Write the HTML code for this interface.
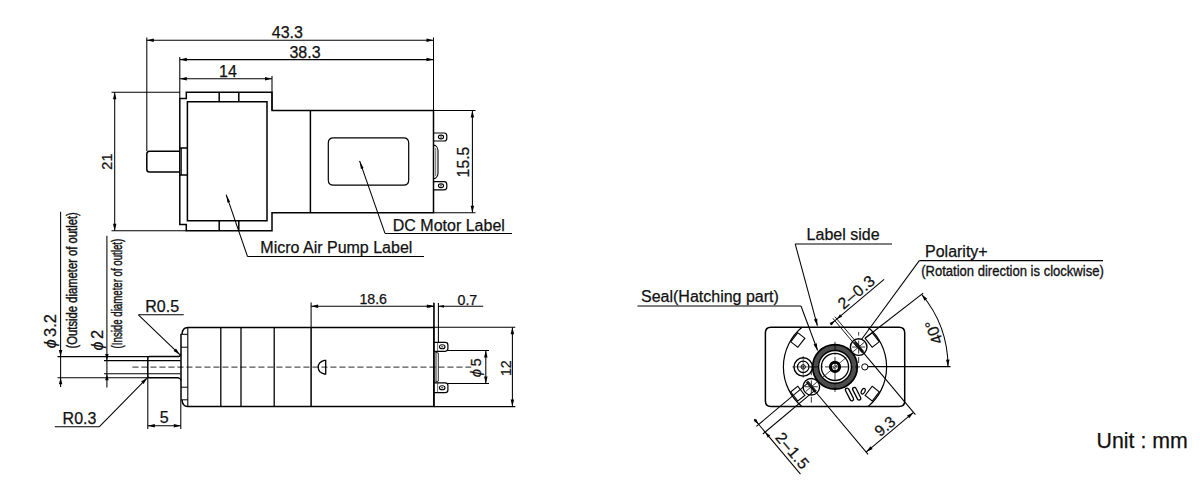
<!DOCTYPE html>
<html><head><meta charset="utf-8"><title>Dimensions</title>
<style>
html,body{margin:0;padding:0;background:#fff;}
body{width:1200px;height:497px;overflow:hidden;}
svg{display:block;}
svg text{font-family:"Liberation Sans",sans-serif;fill:#111;stroke:#111;stroke-width:0.25px;}
</style></head><body>
<svg width="1200" height="497" viewBox="0 0 1200 497">
<rect width="1200" height="497" fill="#fff"/>
<line x1="146.80" y1="37.50" x2="146.80" y2="151.00" stroke="#000" stroke-width="1.05" />
<line x1="433.50" y1="37.50" x2="433.50" y2="110.40" stroke="#000" stroke-width="1.05" />
<line x1="146.80" y1="40.30" x2="433.50" y2="40.30" stroke="#000" stroke-width="1.05" />
<polygon points="146.80,40.30 153.80,38.55 153.80,42.05" fill="#000"/>
<polygon points="433.50,40.30 426.50,42.05 426.50,38.55" fill="#000"/>
<text transform="translate(287.30 38.20)" font-size="16" text-anchor="middle" >43.3</text>
<line x1="179.80" y1="57.00" x2="179.80" y2="98.40" stroke="#000" stroke-width="1.05" />
<line x1="179.80" y1="59.60" x2="433.50" y2="59.60" stroke="#000" stroke-width="1.05" />
<polygon points="179.80,59.60 186.80,57.85 186.80,61.35" fill="#000"/>
<polygon points="433.50,59.60 426.50,61.35 426.50,57.85" fill="#000"/>
<text transform="translate(305.00 57.80)" font-size="16" text-anchor="middle" >38.3</text>
<line x1="272.00" y1="76.00" x2="272.00" y2="110.00" stroke="#000" stroke-width="1.05" />
<line x1="179.80" y1="78.80" x2="272.00" y2="78.80" stroke="#000" stroke-width="1.05" />
<polygon points="179.80,78.80 186.80,77.05 186.80,80.55" fill="#000"/>
<polygon points="272.00,78.80 265.00,80.55 265.00,77.05" fill="#000"/>
<text transform="translate(228.00 76.80)" font-size="16" text-anchor="middle" >14</text>
<line x1="111.50" y1="92.20" x2="180.00" y2="92.20" stroke="#000" stroke-width="1.05" />
<line x1="111.50" y1="230.80" x2="186.30" y2="230.80" stroke="#000" stroke-width="1.05" />
<line x1="114.70" y1="92.20" x2="114.70" y2="230.80" stroke="#000" stroke-width="1.05" />
<polygon points="114.70,92.20 116.45,99.20 112.95,99.20" fill="#000"/>
<polygon points="114.70,230.80 112.95,223.80 116.45,223.80" fill="#000"/>
<text transform="translate(111.60 161.60) rotate(-90)" font-size="14.5" text-anchor="middle" >21</text>
<line x1="433.50" y1="110.40" x2="475.50" y2="110.40" stroke="#000" stroke-width="1.05" />
<line x1="433.50" y1="212.80" x2="475.50" y2="212.80" stroke="#000" stroke-width="1.05" />
<line x1="472.40" y1="110.40" x2="472.40" y2="212.80" stroke="#000" stroke-width="1.05" />
<polygon points="472.40,110.40 474.15,117.40 470.65,117.40" fill="#000"/>
<polygon points="472.40,212.80 470.65,205.80 474.15,205.80" fill="#000"/>
<text transform="translate(469.10 162.00) rotate(-90)" font-size="15.8" text-anchor="middle" >15.5</text>
<path d="M179.8,98.4 H186.3 V92.2 H272 V110.4 H433.5 V212.8 H272 V230.8 H186.3 V224.5 H179.8 Z" stroke="#000" stroke-width="1.5" fill="none" />
<path d="M187.4,101.8 H267 V220.8 H187.4 Z" stroke="#000" stroke-width="1.5" fill="none" />
<path d="M219.2,92.2 V101.8" stroke="#000" stroke-width="1.5" fill="none" />
<path d="M219.2,220.8 V230.8" stroke="#000" stroke-width="1.5" fill="none" />
<path d="M238.8,92.2 V101.8" stroke="#000" stroke-width="1.5" fill="none" />
<path d="M238.8,220.8 V230.8" stroke="#000" stroke-width="1.5" fill="none" />
<path d="M310.4,110.4 V212.8" stroke="#000" stroke-width="1.5" fill="none" />
<path d="M179.8,151.2 H149.5 Q146.8,151.2 146.8,154 V169.2 Q146.8,172 149.5,172 H179.8" stroke="#000" stroke-width="1.5" fill="none" />
<path d="M179.8,148 H187.4 M179.8,175 H187.4" stroke="#000" stroke-width="1.5" fill="none" />
<path d="M181.2,148 V175" stroke="#000" stroke-width="1.2" fill="none" />
<path d="M333.5,137.8 H403.5 Q408.7,137.8 408.7,143 V180 Q408.7,185.2 403.5,185.2 H333.5 Q328.3,185.2 328.3,180 V143 Q328.3,137.8 333.5,137.8 Z" stroke="#000" stroke-width="1.2" fill="none" />
<path d="M433.5,133 H444 Q446.8,133 446.8,135.8 V138.2 Q446.8,141 444,141 H433.5" stroke="#000" stroke-width="1.2" fill="none" />
<ellipse cx="441" cy="137.00" rx="2.6" ry="1.9" fill="none" stroke="#000" stroke-width="1.1"/>
<ellipse cx="441" cy="137.00" rx="1.1" ry="0.8" fill="#555"/>
<path d="M433.5,181.7 H444 Q446.8,181.7 446.8,184.5 V187.0 Q446.8,189.8 444,189.8 H433.5" stroke="#000" stroke-width="1.2" fill="none" />
<ellipse cx="441" cy="185.75" rx="2.6" ry="1.9" fill="none" stroke="#000" stroke-width="1.1"/>
<ellipse cx="441" cy="185.75" rx="1.1" ry="0.8" fill="#555"/>
<path d="M433.5,145 L435.5,145.6 Q438,147.5 438,150 V173.8 Q438,176.3 435.5,178.2 L433.5,178.8" stroke="#000" stroke-width="1.1" fill="none" />
<path d="M435.7,148 V176" stroke="#444" stroke-width="0.8" fill="none" />
<line x1="226.20" y1="194.70" x2="247.50" y2="256.50" stroke="#000" stroke-width="1.05" />
<line x1="247.50" y1="256.50" x2="424.00" y2="256.50" stroke="#000" stroke-width="1.05" />
<polygon points="226.20,194.70 230.13,201.81 227.48,202.72" fill="#000"/>
<text transform="translate(260.30 253.00)" font-size="16" text-anchor="start" >Micro Air Pump Label</text>
<line x1="359.60" y1="160.90" x2="385.00" y2="233.40" stroke="#000" stroke-width="1.05" />
<line x1="385.00" y1="233.40" x2="512.00" y2="233.40" stroke="#000" stroke-width="1.05" />
<polygon points="359.60,160.90 363.58,167.98 360.94,168.91" fill="#000"/>
<text transform="translate(392.80 230.70)" font-size="16" text-anchor="start" >DC Motor Label</text>
<line x1="60.60" y1="211.70" x2="60.60" y2="387.00" stroke="#000" stroke-width="1.05" />
<line x1="106.90" y1="235.80" x2="106.90" y2="387.50" stroke="#000" stroke-width="1.05" />
<line x1="57.50" y1="356.60" x2="148.00" y2="356.60" stroke="#000" stroke-width="1.05" />
<line x1="57.50" y1="377.80" x2="148.00" y2="377.80" stroke="#000" stroke-width="1.05" />
<line x1="104.00" y1="360.60" x2="180.50" y2="360.60" stroke="#000" stroke-width="1.05" />
<line x1="104.00" y1="373.70" x2="180.50" y2="373.70" stroke="#000" stroke-width="1.05" />
<polygon points="60.60,356.60 58.85,350.10 62.35,350.10" fill="#000"/>
<polygon points="60.60,377.80 62.35,384.30 58.85,384.30" fill="#000"/>
<polygon points="106.90,360.60 105.15,354.10 108.65,354.10" fill="#000"/>
<polygon points="106.90,373.70 108.65,380.20 105.15,380.20" fill="#000"/>
<text transform="translate(56.40 348.30) rotate(-90)" font-size="16" text-anchor="start" font-style="italic">ϕ</text>
<text transform="translate(56.30 336.90) rotate(-90)" font-size="16.5" text-anchor="start" >3.2</text>
<text transform="translate(76.80 348.40) rotate(-90) scale(0.726 1)" font-size="15.5" text-anchor="start" style="stroke-width:0.45px">(Outside diameter of outlet)</text>
<text transform="translate(103.00 350.50) rotate(-90)" font-size="16" text-anchor="start" font-style="italic">ϕ</text>
<text transform="translate(102.60 339.00) rotate(-90)" font-size="16.5" text-anchor="start" >2</text>
<text transform="translate(121.80 348.40) rotate(-90) scale(0.6245 1)" font-size="15.5" text-anchor="start" style="stroke-width:0.45px">(Inside diameter of outlet)</text>
<line x1="132.40" y1="367.10" x2="471.20" y2="367.10" stroke="#555" stroke-width="1.3" stroke-dasharray="6.1 2.9"/>
<path d="M178.5,356.6 H149.6 Q147.8,356.6 147.8,358.4 V376 Q147.8,377.8 149.6,377.8 H178.5" stroke="#000" stroke-width="1.5" fill="none" />
<path d="M178,356.6 Q180.6,356.6 180.8,353.6 M178,377.8 Q180.6,377.8 180.8,380.8" stroke="#000" stroke-width="1.2" fill="none" />
<path d="M182,334.3 Q182.3,327.4 187.8,327.4 H433.8 V406.6 H187.8 Q182.3,406.6 182,399.8" stroke="#000" stroke-width="1.5" fill="none" />
<path d="M181,334.3 V399.8" stroke="#000" stroke-width="1.5" fill="none" />
<path d="M187.8,327.4 V406.6" stroke="#000" stroke-width="1.1" fill="none" />
<path d="M180.4,334.3 H187.8 M181,347.2 H187.8 M181,387.2 H187.8 M180.4,399.8 H187.8" stroke="#000" stroke-width="1.0" fill="none" />
<path d="M220.8,327.3 V406.6" stroke="#000" stroke-width="1.3" fill="none" />
<path d="M241,327.3 V406.6" stroke="#000" stroke-width="1.3" fill="none" />
<path d="M274.2,327.3 V406.6" stroke="#000" stroke-width="1.3" fill="none" />
<path d="M311.1,327.3 V406.6" stroke="#000" stroke-width="1.5" fill="none" />
<path d="M325.7,360.4 V374 H324.5 Q318.2,372.5 318.2,367.2 Q318.2,362 324.5,360.4 Z" stroke="#000" stroke-width="1.3" fill="none" />
<line x1="311.10" y1="302.50" x2="311.10" y2="327.30" stroke="#000" stroke-width="1.05" />
<line x1="433.80" y1="302.50" x2="433.80" y2="327.30" stroke="#000" stroke-width="1.05" />
<line x1="311.10" y1="306.30" x2="433.80" y2="306.30" stroke="#000" stroke-width="1.05" />
<polygon points="311.10,306.30 318.10,304.55 318.10,308.05" fill="#000"/>
<polygon points="433.80,306.30 426.80,308.05 426.80,304.55" fill="#000"/>
<text transform="translate(373.20 304.40)" font-size="14.2" text-anchor="middle" >18.6</text>
<line x1="434.10" y1="303.00" x2="434.10" y2="406.60" stroke="#000" stroke-width="1.1" />
<line x1="438.40" y1="303.00" x2="438.40" y2="342.00" stroke="#000" stroke-width="1.05" />
<line x1="427.00" y1="306.30" x2="434.10" y2="306.30" stroke="#000" stroke-width="1.05" />
<polygon points="434.10,306.30 428.60,307.70 428.60,304.90" fill="#000"/>
<line x1="438.40" y1="306.30" x2="483.20" y2="306.30" stroke="#000" stroke-width="1.05" />
<polygon points="438.40,306.30 443.90,304.90 443.90,307.70" fill="#000"/>
<text transform="translate(467.40 304.50)" font-size="14.2" text-anchor="middle" >0.7</text>
<path d="M434.1,342.3 H445.2 Q447.9,342.3 447.9,345.0 V348.6 Q447.9,351.3 445.2,351.3 H434.1" stroke="#000" stroke-width="1.2" fill="none" />
<path d="M437.6,342.3 V351.3" stroke="#333" stroke-width="0.7" fill="none" />
<ellipse cx="442.2" cy="346.80" rx="2.8" ry="2" fill="none" stroke="#000" stroke-width="1.1"/>
<ellipse cx="442.2" cy="346.80" rx="1.2" ry="0.8" fill="#555"/>
<path d="M434.1,382.9 H445.2 Q447.9,382.9 447.9,385.59999999999997 V389.90000000000003 Q447.9,392.6 445.2,392.6 H434.1" stroke="#000" stroke-width="1.2" fill="none" />
<path d="M437.6,382.9 V392.6" stroke="#333" stroke-width="0.7" fill="none" />
<ellipse cx="442.2" cy="387.75" rx="2.8" ry="2" fill="none" stroke="#000" stroke-width="1.1"/>
<ellipse cx="442.2" cy="387.75" rx="1.2" ry="0.8" fill="#555"/>
<path d="M434.1,351.3 L436,352.3 V381.9 L434.1,382.9 M438.3,353 V381.2 M436,352.3 L438.3,353 M436,381.9 L438.3,381.2" stroke="#111" stroke-width="0.9" fill="none" />
<line x1="447.90" y1="350.50" x2="489.00" y2="350.50" stroke="#000" stroke-width="1.05" />
<line x1="447.90" y1="383.50" x2="489.00" y2="383.50" stroke="#000" stroke-width="1.05" />
<line x1="485.80" y1="350.50" x2="485.80" y2="383.50" stroke="#000" stroke-width="1.05" />
<polygon points="485.80,350.50 487.55,357.50 484.05,357.50" fill="#000"/>
<polygon points="485.80,383.50 484.05,376.50 487.55,376.50" fill="#000"/>
<text transform="translate(481.40 377.20) rotate(-90)" font-size="15" text-anchor="start" font-style="italic">ϕ</text>
<text transform="translate(481.30 366.30) rotate(-90)" font-size="14.2" text-anchor="start" >5</text>
<line x1="433.80" y1="327.30" x2="515.30" y2="327.30" stroke="#000" stroke-width="1.05" />
<line x1="433.80" y1="406.60" x2="515.30" y2="406.60" stroke="#000" stroke-width="1.05" />
<line x1="512.40" y1="327.30" x2="512.40" y2="406.60" stroke="#000" stroke-width="1.05" />
<polygon points="512.40,327.30 514.15,334.30 510.65,334.30" fill="#000"/>
<polygon points="512.40,406.60 510.65,399.60 514.15,399.60" fill="#000"/>
<text transform="translate(510.60 368.20) rotate(-90)" font-size="14.2" text-anchor="middle" >12</text>
<line x1="147.80" y1="377.80" x2="147.80" y2="429.00" stroke="#000" stroke-width="1.05" />
<line x1="180.80" y1="400.00" x2="180.80" y2="429.00" stroke="#000" stroke-width="1.05" />
<line x1="147.80" y1="425.80" x2="180.80" y2="425.80" stroke="#000" stroke-width="1.05" />
<polygon points="147.80,425.80 154.80,424.05 154.80,427.55" fill="#000"/>
<polygon points="180.80,425.80 173.80,427.55 173.80,424.05" fill="#000"/>
<text transform="translate(164.20 423.20)" font-size="16" text-anchor="middle" >5</text>
<text transform="translate(145.30 311.70)" font-size="16" text-anchor="start" >R0.5</text>
<line x1="138.40" y1="314.80" x2="183.70" y2="314.80" stroke="#000" stroke-width="1.05" />
<line x1="138.40" y1="314.80" x2="179.80" y2="354.60" stroke="#000" stroke-width="1.05" />
<polygon points="179.80,354.60 173.54,351.01 175.97,348.49" fill="#000"/>
<text transform="translate(62.60 424.00)" font-size="16" text-anchor="start" >R0.3</text>
<line x1="54.80" y1="426.80" x2="99.20" y2="426.80" stroke="#000" stroke-width="1.05" />
<line x1="99.20" y1="426.80" x2="147.30" y2="377.80" stroke="#000" stroke-width="1.05" />
<polygon points="147.30,377.80 143.65,384.02 141.15,381.57" fill="#000"/>
<path d="M770.9,327.3 H899.2 Q904.7,327.3 904.7,332.8 V401.1 Q904.7,406.6 899.2,406.6 H770.9 Q765.4,406.6 765.4,401.1 V332.8 Q765.4,327.3 770.9,327.3 Z" stroke="#000" stroke-width="1.5" fill="none" />
<path d="M801.98,327.3 A51.6,51.6 0 0 0 801.98,406.6" stroke="#000" stroke-width="1.2" fill="none" />
<path d="M868.02,327.3 A51.6,51.6 0 0 1 868.02,406.6" stroke="#000" stroke-width="1.2" fill="none" />
<rect x="-4.5" y="-5.75" width="9" height="11.5" fill="#fff" stroke="#000" stroke-width="1.1" transform="translate(797.80 340.00) rotate(38)"/>
<rect x="-4.5" y="-5.75" width="9" height="11.5" fill="#fff" stroke="#000" stroke-width="1.1" transform="translate(872.20 340.00) rotate(-38)"/>
<rect x="-4.5" y="-5.75" width="9" height="11.5" fill="#fff" stroke="#000" stroke-width="1.1" transform="translate(797.80 393.60) rotate(-38)"/>
<rect x="-4.5" y="-5.75" width="9" height="11.5" fill="#fff" stroke="#000" stroke-width="1.1" transform="translate(872.20 393.60) rotate(38)"/>
<circle cx="835.0" cy="366.9" r="19.4" fill="none" stroke="#4c4c4c" stroke-width="5.8"/>
<circle cx="835.0" cy="366.9" r="22.3" fill="none" stroke="#000" stroke-width="1.7"/>
<circle cx="835.0" cy="366.9" r="16.4" fill="none" stroke="#000" stroke-width="1.4"/>
<circle cx="835.0" cy="366.9" r="13.6" fill="none" stroke="#000" stroke-width="1.3"/>
<circle cx="835.0" cy="366.9" r="4.6" fill="none" stroke="#000" stroke-width="3"/>
<circle cx="835.0" cy="366.9" r="1.3" fill="none" stroke="#333" stroke-width="0.6"/>
<line x1="810.00" y1="366.90" x2="860.00" y2="366.90" stroke="#000" stroke-width="0.8" stroke-dasharray="9 2 2 2"/>
<line x1="835.00" y1="341.90" x2="835.00" y2="391.90" stroke="#000" stroke-width="0.8" stroke-dasharray="9 2 2 2"/>
<circle cx="803.2" cy="366.9" r="9.2" fill="none" stroke="#000" stroke-width="1.4"/>
<circle cx="803.2" cy="366.9" r="5.7" fill="none" stroke="#000" stroke-width="1.2"/>
<circle cx="803.2" cy="366.9" r="2.2" fill="none" stroke="#000" stroke-width="1.0"/>
<circle cx="803.2" cy="366.9" r="0.8" fill="#333"/>
<line x1="792.20" y1="366.90" x2="814.20" y2="366.90" stroke="#000" stroke-width="0.6" />
<line x1="803.20" y1="355.90" x2="803.20" y2="377.90" stroke="#000" stroke-width="0.6" />
<circle cx="864.8" cy="366.9" r="3.1" fill="#fff" stroke="#000" stroke-width="1"/>
<line x1="868.00" y1="366.60" x2="950.50" y2="366.60" stroke="#000" stroke-width="1.05" />
<circle cx="858.67" cy="347.04" r="8.3" fill="#fff" stroke="#000" stroke-width="1.4"/>
<line x1="853.08" y1="351.73" x2="864.26" y2="342.35" stroke="#000" stroke-width="0.8" />
<line x1="858.67" y1="340.54" x2="858.67" y2="353.54" stroke="#000" stroke-width="0.8" />
<line x1="852.17" y1="347.04" x2="865.17" y2="347.04" stroke="#000" stroke-width="0.8" />
<line x1="858.67" y1="332.04" x2="858.67" y2="335.54" stroke="#000" stroke-width="0.8" />
<line x1="858.67" y1="357.04" x2="858.67" y2="363.04" stroke="#000" stroke-width="0.8" />
<polygon points="853.57,342.83 861.93,352.79 863.77,351.25 855.41,341.29" fill="#222" stroke="#000" stroke-width="0.6"/>
<circle cx="811.33" cy="386.76" r="8.3" fill="#fff" stroke="#000" stroke-width="1.4"/>
<line x1="805.74" y1="391.45" x2="816.92" y2="382.07" stroke="#000" stroke-width="0.8" />
<line x1="811.33" y1="380.26" x2="811.33" y2="393.26" stroke="#000" stroke-width="0.8" />
<line x1="804.83" y1="386.76" x2="817.83" y2="386.76" stroke="#000" stroke-width="0.8" />
<line x1="811.33" y1="371.76" x2="811.33" y2="375.26" stroke="#000" stroke-width="0.8" />
<line x1="811.33" y1="396.76" x2="811.33" y2="402.76" stroke="#000" stroke-width="0.8" />
<polygon points="806.23,382.55 814.59,392.51 816.43,390.97 808.07,381.01" fill="#222" stroke="#000" stroke-width="0.6"/>
<rect x="-1.75" y="-6.9" width="3.5" height="13.8" rx="1.75" fill="#fff" stroke="#000" stroke-width="1.3" transform="translate(849.5 394.5) rotate(-27)"/>
<rect x="-1.75" y="-6.9" width="3.5" height="13.8" rx="1.75" fill="#fff" stroke="#000" stroke-width="1.3" transform="translate(856.7 393.7) rotate(-27)"/>
<ellipse cx="863.2" cy="391.2" rx="1.7" ry="3" fill="#fff" stroke="#000" stroke-width="1.2" transform="rotate(28 863.2 391.2)"/>
<line x1="821.98" y1="377.83" x2="846.49" y2="357.26" stroke="#000" stroke-width="0.7" />
<line x1="865.30" y1="338.00" x2="923.20" y2="293.20" stroke="#000" stroke-width="1.05" />
<path d="M921.56,294.27 A113,113 0 0 1 948.00,366.90" fill="none" stroke="#000" stroke-width="1.05"/>
<polygon points="921.56,294.27 927.25,298.70 924.49,300.86" fill="#000"/>
<polygon points="948.00,366.60 946.01,359.67 949.50,359.54" fill="#000"/>
<text transform="translate(939.01 330.48) rotate(-110)" font-size="16" text-anchor="middle" >40°</text>
<line x1="861.50" y1="339.50" x2="919.30" y2="260.60" stroke="#000" stroke-width="1.05" />
<line x1="919.30" y1="260.60" x2="1103.00" y2="260.60" stroke="#000" stroke-width="1.05" />
<text transform="translate(925.00 256.80)" font-size="16" text-anchor="start" >Polarity+</text>
<text transform="translate(921.20 276.00) scale(0.842 1)" font-size="15.5" text-anchor="start" style="stroke-width:0.35px">(Rotation direction is clockwise)</text>
<text transform="translate(806.60 240.40)" font-size="16" text-anchor="start" >Label side</text>
<line x1="795.20" y1="243.90" x2="892.00" y2="243.90" stroke="#000" stroke-width="1.05" />
<line x1="795.20" y1="243.90" x2="817.40" y2="325.80" stroke="#000" stroke-width="1.05" />
<polygon points="817.40,325.80 813.88,319.50 817.26,318.59" fill="#000"/>
<text transform="translate(641.00 301.70)" font-size="16" text-anchor="start" >Seal(Hatching part)</text>
<line x1="637.50" y1="306.00" x2="801.00" y2="306.00" stroke="#000" stroke-width="1.05" />
<line x1="801.00" y1="306.00" x2="817.60" y2="350.50" stroke="#000" stroke-width="1.05" />
<polygon points="817.60,350.50 813.51,344.55 816.79,343.33" fill="#000"/>
<line x1="857.67" y1="347.87" x2="832.93" y2="318.38" stroke="#000" stroke-width="0.9" />
<line x1="859.67" y1="346.20" x2="834.92" y2="316.71" stroke="#000" stroke-width="0.9" />
<line x1="830.49" y1="324.34" x2="884.11" y2="279.35" stroke="#000" stroke-width="1.05" />
<polygon points="834.86,320.68 831.67,325.44 829.61,322.99" fill="#000"/>
<polygon points="836.85,319.01 840.03,314.25 842.09,316.70" fill="#000"/>
<text transform="translate(860.07 296.13) rotate(-40.0)" font-size="16" text-anchor="middle" letter-spacing="0.6">2–0.3</text>
<line x1="858.67" y1="347.04" x2="915.43" y2="414.68" stroke="#000" stroke-width="1.05" />
<line x1="811.33" y1="386.76" x2="868.09" y2="454.40" stroke="#000" stroke-width="1.05" />
<line x1="913.50" y1="412.38" x2="866.16" y2="452.11" stroke="#000" stroke-width="1.05" />
<polygon points="913.50,412.38 909.26,418.22 907.01,415.54" fill="#000"/>
<polygon points="866.16,452.11 870.40,446.27 872.65,448.95" fill="#000"/>
<text transform="translate(888.29 430.41) rotate(-40.0)" font-size="15.5" text-anchor="middle" >9.3</text>
<line x1="808.12" y1="382.93" x2="756.41" y2="426.32" stroke="#000" stroke-width="1.05" />
<line x1="814.54" y1="390.59" x2="762.84" y2="433.98" stroke="#000" stroke-width="1.05" />
<line x1="754.21" y1="419.03" x2="800.49" y2="474.18" stroke="#000" stroke-width="1.05" />
<polygon points="758.71,424.39 753.62,420.82 756.07,418.77" fill="#000"/>
<polygon points="765.13,432.05 770.22,435.62 767.76,437.68" fill="#000"/>
<text transform="translate(788.31 454.38) rotate(50.0)" font-size="16" text-anchor="middle" letter-spacing="0.6">2–1.5</text>
<text transform="translate(1096.60 448.40)" font-size="21.3" text-anchor="start" >Unit : mm</text>
</svg>
</body></html>
